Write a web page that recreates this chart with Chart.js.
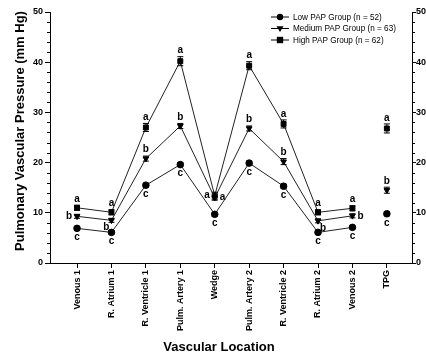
<!DOCTYPE html>
<html>
<head>
<meta charset="utf-8">
<script src="https://cdn.jsdelivr.net/npm/chart.js@4/dist/chart.umd.min.js"></script>
<style>
  html, body { margin: 0; padding: 0; background: #fff; }
</style>
</head>
<body>
<canvas id="chPressure" width="426" height="360"></canvas>
<script>
var locations = ['Venous 1', 'R. Atrium 1', 'R. Ventricle 1', 'Pulm. Artery 1', 'Wedge',
                 'Pulm. Artery 2', 'R. Ventricle 2', 'R. Atrium 2', 'Venous 2', 'TPG'];

var lowPAP    = [6.9, 6.1, 15.5, 19.6, 9.7, 19.9, 15.3, 6.1, 7.1, 9.8];
var mediumPAP = [9.3, 8.5, 20.8, 27.3, 13.0, 26.8, 20.2, 8.4, 9.4, 14.5];
var highPAP   = [11.0, 10.1, 27.0, 40.2, 13.4, 39.3, 27.7, 10.1, 10.9, 26.8];

var lowSem    = [0.4, 0.3, 0.4, 0.4, 0.4, 0.4, 0.4, 0.3, 0.3, 0.4];
var mediumSem = [0.4, 0.4, 0.5, 0.5, 0.5, 0.5, 0.6, 0.4, 0.4, 0.6];
var highSem   = [0.5, 0.5, 0.8, 0.9, 0.7, 0.8, 0.8, 0.5, 0.5, 0.9];

var lowLetters    = ['c', 'c', 'c', 'c', 'c', 'c', 'c', 'c', 'c', 'c'];
var mediumLetters = ['b', 'b', 'b', 'b', 'a', 'b', 'b', 'b', 'b', 'b'];
var highLetters   = ['a', 'a', 'a', 'a', 'a', 'a', 'a', 'a', 'a', 'a'];

var groupNames = ['Low PAP Group (n = 52)', 'Medium PAP Group (n = 63)', 'High PAP Group (n = 62)'];

// where each letter sits round its point
var lowPos    = ['b', 'b', 'b', 'b', 'b', 'b', 'b', 'b', 'b', 'b'];
var mediumPos = ['l', 'bl', 't', 't', 'r', 't', 't', 'br', 'r', 't'];
var highPos   = ['t', 't', 't', 't', 'l', 't', 't', 't', 't', 't'];

function toPoints(arr) {
  return arr.map(function (v, i) { return { x: i + 1, y: v }; });
}

// no line into TPG
var noTpgLine = {
  borderColor: function (ctx) { return ctx.p1DataIndex === 9 ? 'rgba(0,0,0,0)' : '#222'; }
};

function makeSet(label, values, sem, letters, pos, style, rot) {
  return {
    label: label,
    data: toPoints(values),
    sem: sem,
    letters: letters,
    letterPos: pos,
    borderColor: '#222',
    borderWidth: 1,
    backgroundColor: '#000',
    pointBackgroundColor: '#000',
    pointBorderColor: '#000',
    pointStyle: style,
    pointRotation: rot,
    pointRadius: style === 'rect' ? 3.5 : 3.3,
    segment: noTpgLine,
    tension: 0
  };
}

var FONT = 'Liberation Sans, Arial, sans-serif';

function drawMarker(ctx, style, x, y, r) {
  ctx.beginPath();
  if (style === 'circle') {
    ctx.arc(x, y, r, 0, Math.PI * 2);
  } else if (style === 'rect') {
    ctx.rect(x - r, y - r, 2 * r, 2 * r);
  } else {
    ctx.moveTo(x - r * 1.1, y - r * 0.7);
    ctx.lineTo(x + r * 1.1, y - r * 0.7);
    ctx.lineTo(x, y + r * 1.1);
    ctx.closePath();
  }
  ctx.fill();
}

var extras = {
  id: 'extras',
  afterDatasetsDraw: function (chart) {
    var ctx = chart.ctx, ys = chart.scales.y;
    ctx.save();
    ctx.strokeStyle = '#000';
    ctx.fillStyle = '#000';
    ctx.lineWidth = 1;
    ctx.font = 'bold 10px ' + FONT;
    chart.data.datasets.forEach(function (ds, di) {
      var meta = chart.getDatasetMeta(di);
      meta.data.forEach(function (pt, i) {
        var v = ds.data[i].y, e = ds.sem[i];
        var yt = ys.getPixelForValue(v + e), yb = ys.getPixelForValue(v - e);
        ctx.beginPath();
        ctx.moveTo(pt.x, yt); ctx.lineTo(pt.x, yb);
        ctx.moveTo(pt.x - 3, yt); ctx.lineTo(pt.x + 3, yt);
        ctx.moveTo(pt.x - 3, yb); ctx.lineTo(pt.x + 3, yb);
        ctx.stroke();

        var p = ds.letterPos[i], t = ds.letters[i];
        if (p === 't') { ctx.textAlign = 'center'; ctx.textBaseline = 'bottom'; ctx.fillText(t, pt.x, Math.min(yt, pt.y - 3) - 1); }
        else if (p === 'b') { ctx.textAlign = 'center'; ctx.textBaseline = 'top'; ctx.fillText(t, pt.x, Math.max(yb, pt.y + 3) + 1); }
        else if (p === 'l') { ctx.textAlign = 'right'; ctx.textBaseline = 'middle'; ctx.fillText(t, pt.x - 5, pt.y); }
        else if (p === 'r') { ctx.textAlign = 'left'; ctx.textBaseline = 'middle'; ctx.fillText(t, pt.x + 5, pt.y); }
        else if (p === 'bl') { ctx.textAlign = 'right'; ctx.textBaseline = 'top'; ctx.fillText(t, pt.x - 2, pt.y + 2); }
        else if (p === 'br') { ctx.textAlign = 'left'; ctx.textBaseline = 'top'; ctx.fillText(t, pt.x + 2, pt.y + 2); }
      });
    });
    ctx.restore();
  },
  afterDraw: function (chart) {
    var ctx = chart.ctx;
    var ys = chart.scales.y, y2 = chart.scales.y2;
    ctx.save();
    ctx.strokeStyle = '#000';
    ctx.fillStyle = '#000';
    ctx.lineWidth = 1;

    // minor ticks every 2
    ctx.beginPath();
    for (var v = 2; v < 50; v += 2) {
      if (v % 10 === 0) continue;
      var py = Math.round(ys.getPixelForValue(v)) + 0.5;
      ctx.moveTo(ys.right - 3, py); ctx.lineTo(ys.right, py);
      ctx.moveTo(y2.left, py); ctx.lineTo(y2.left + 3, py);
    }
    ctx.stroke();

    // legend
    var styles = ['circle', 'tri', 'rect'];
    var rowY = [17, 28.5, 40];
    ctx.font = '8.2px ' + FONT;
    ctx.textAlign = 'left';
    ctx.textBaseline = 'middle';
    for (var k = 0; k < 3; k++) {
      ctx.beginPath();
      ctx.moveTo(271, rowY[k]); ctx.lineTo(289, rowY[k]);
      ctx.stroke();
      drawMarker(ctx, styles[k], 280, rowY[k], 3.2);
      ctx.fillText(chart.data.datasets[k].label, 293, rowY[k] + 0.5);
    }

    // axis titles
    ctx.font = 'bold 13px ' + FONT;
    ctx.textAlign = 'center';
    ctx.textBaseline = 'middle';
    ctx.fillText('Vascular Location', 219, 347);
    ctx.translate(20, 131);
    ctx.rotate(-Math.PI / 2);
    ctx.fillText('Pulmonary Vascular Pressure (mm Hg)', 0, 0);
    ctx.restore();
  }
};

var axisFont = { family: FONT, size: 9, weight: 'bold' };

new Chart(document.getElementById('chPressure'), {
  type: 'line',
  data: {
    datasets: [
      makeSet(groupNames[0], lowPAP, lowSem, lowLetters, lowPos, 'circle', 0),
      makeSet(groupNames[1], mediumPAP, mediumSem, mediumLetters, mediumPos, 'triangle', 180),
      makeSet(groupNames[2], highPAP, highSem, highLetters, highPos, 'rect', 0)
    ]
  },
  options: {
    responsive: false,
    animation: false,
    layout: { padding: { top: 12, left: 0, right: 0, bottom: 0 } },
    plugins: { legend: { display: false }, tooltip: { enabled: false } },
    scales: {
      x: {
        type: 'linear',
        min: 0.215,
        max: 10.73,
        afterBuildTicks: function (scale) {
          scale.ticks = locations.map(function (l, i) { return { value: i + 1 }; });
        },
        afterFit: function (scale) { scale.height = 97; },
        ticks: {
          autoSkip: false,
          minRotation: 90,
          maxRotation: 90,
          color: '#000',
          font: axisFont,
          padding: 2,
          callback: function (v) { return locations[v - 1]; }
        },
        grid: { drawOnChartArea: false, tickLength: 5, color: '#000' },
        border: { color: '#000', width: 1 }
      },
      y: {
        position: 'left',
        min: 0,
        max: 50,
        afterFit: function (scale) { scale.width = 50; },
        ticks: { stepSize: 10, color: '#000', font: axisFont, padding: 2 },
        grid: { drawOnChartArea: false, tickLength: 5, color: '#000' },
        border: { color: '#000', width: 1 }
      },
      y2: {
        position: 'right',
        min: 0,
        max: 50,
        afterFit: function (scale) { scale.width = 14; },
        ticks: { stepSize: 10, color: '#000', font: axisFont, padding: 0 },
        grid: { drawOnChartArea: false, tickLength: 4, color: '#000' },
        border: { color: '#000', width: 1 }
      }
    }
  },
  plugins: [extras]
});
</script>
</body>
</html>
